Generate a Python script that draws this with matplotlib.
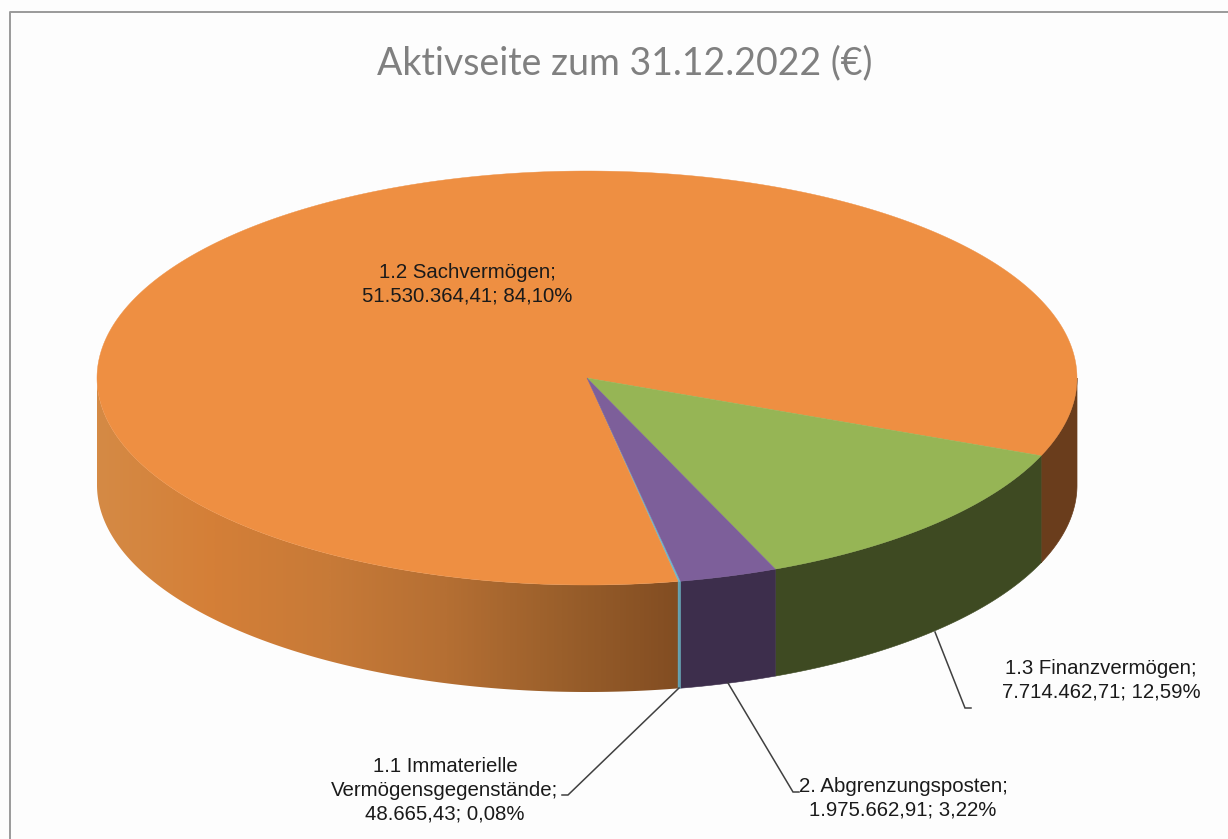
import numpy as np
import matplotlib
matplotlib.use('Agg')
import matplotlib.pyplot as plt
from matplotlib.colors import LinearSegmentedColormap
from matplotlib.patches import Polygon

# clockwise order, starting at the thin slice
names = ['1.1 Immaterielle\nVermögensgegenstände', '1.2 Sachvermögen', '1.3 Finanzvermögen', '2. Abgrenzungsposten']
values = [48665.43, 51530364.41, 7714462.71, 1975662.91]
top_colors = ['#6fb8cf', '#ee8f42', '#96b555', '#7d5f9a']
side_colors = ['#5f9fb0', '#6a3d1c', '#3e4a22', '#3d2e4c']
title = 'Aktivseite zum 31.12.2022 (€)'

# pie geometry in pixels
cx, cy = 587, 378
rx, ry = 490, 207
depth = 107
start_angle = -79.0


def german(v):
    s = f'{v:,.2f}'
    return s.replace(',', 'X').replace('.', ',').replace('X', '.')


def arc(a1, a2, dy=0, n=200):
    t = np.radians(np.linspace(a1, a2, n))
    return np.column_stack([cx + rx * np.cos(t), cy - ry * np.sin(t) + dy])


def wall(a1, a2):
    return np.vstack([arc(a1, a2), arc(a2, a1, depth)])


fig = plt.figure(figsize=(12.28, 8.39), dpi=100, facecolor='#fdfdfd')
ax = fig.add_axes([0, 0, 1, 1])
ax.axis('off')

# slice angles come from the values, going clockwise
total = sum(values)
sweeps = [v / total * 360 for v in values]
ends = start_angle - np.cumsum(sweeps)
starts = np.concatenate([[start_angle], ends[:-1]])

# front wall of the big slice has a left to right shading
patch = Polygon(wall(starts[1], -180), closed=True, facecolor='none', edgecolor='none')
ax.add_patch(patch)
shade = LinearSegmentedColormap.from_list('shade', ['#d58a45', '#d47f37', '#c77a38', '#b56f33', '#9a5f2b', '#824d22'])
im = ax.imshow(np.linspace(0, 1, 600).reshape(1, -1), cmap=shade, aspect='auto',
               extent=[cx - rx, cx + rx * np.cos(np.radians(starts[1])), cy + ry + depth, cy], zorder=1)
im.set_clip_path(patch)

# right part of the big slice wall, from its end angle round to 3 o'clock
ax.add_patch(Polygon(wall(ends[1] + 360, 0), closed=True, facecolor=side_colors[1], edgecolor=side_colors[1], lw=0.5, zorder=1))

# the other walls
for i in [2, 3, 0]:
    ax.add_patch(Polygon(wall(starts[i], ends[i]), closed=True, facecolor=side_colors[i],
                         edgecolor=side_colors[i], lw=0.4, zorder=2))

# top faces
for i in range(4):
    pts = np.vstack([[cx, cy], arc(starts[i], ends[i], n=500)])
    ax.add_patch(Polygon(pts, closed=True, facecolor=top_colors[i], edgecolor=top_colors[i], lw=0.3, zorder=3))

# leader lines
leaders = [([679, 568, 562], [688, 795, 795]),
           ([728, 793, 799], [683, 792, 792]),
           ([935, 965, 971], [632, 708, 708])]
for xs, ys in leaders:
    ax.plot(xs, ys, color='#404040', lw=1.1, zorder=4, solid_joinstyle='miter')

# data labels
label_pos = [(445, 790), (467, 284), (1101, 680), (903, 798)]
for name, v, pos in zip(names, values, label_pos):
    pct = german(v / total * 100)
    ax.text(pos[0], pos[1], f'{name};\n{german(v)}; {pct}%', ha='center', va='center',
            fontsize=14.7, family='Liberation Sans', color='#1a1a1a', linespacing=1.3, zorder=5)

ax.text(625, 63, title, ha='center', va='center', fontsize=27, family='Lato', color='#808080')

# frame of the pasted chart
ax.plot([9.5, 9.5, 1228], [839, 11.5, 11.5], color='#9a9a9a', lw=1.4)

ax.set_xlim(0, 1228)
ax.set_ylim(839, 0)
fig.savefig('out.png', dpi=100, facecolor=fig.get_facecolor())
